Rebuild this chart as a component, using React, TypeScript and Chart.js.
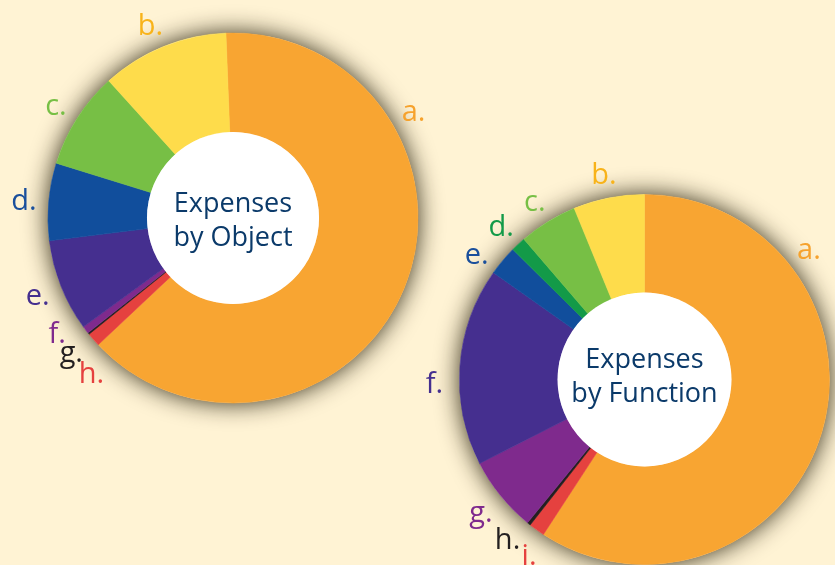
import React, { useEffect, useRef } from "react";
import { Chart, registerables } from "chart.js";

Chart.register(...registerables);

// ---- data (percent of total) ----
const objectLabels = ["a.", "b.", "c.", "d.", "e.", "f.", "g.", "h."];
const objectValues = [63.6, 11.1, 8.5, 6.75, 8.05, 0.65, 0.15, 1.2];
const objectTitle = ["Expenses", "by Object"];

const functionLabels = ["a.", "b.", "c.", "d.", "e.", "f.", "g.", "h.", "i."];
const functionValues = [59.2, 6.2, 5.1, 1.3, 2.6, 17.3, 6.6, 0.3, 1.4];
const functionTitle = ["Expenses", "by Function"];

// ---- styles ----
const ORANGE = "#F8A532";
const YELLOW = "#FEDC4B";
const GREEN = "#77BF45";
const DKGREEN = "#139A48";
const BLUE = "#114E9C";
const INDIGO = "#452F8F";
const PURPLE = "#7F2A8D";
const BLACK = "#231F20";
const RED = "#E5413F";
const NAVY = "#0B3A6A";
const BG = "#FFF3D4";

const objectColors = [ORANGE, YELLOW, GREEN, BLUE, INDIGO, PURPLE, BLACK, RED];
const objectTextColors = ["#F6A22D", "#F8B31A", GREEN, "#1A4F9C", INDIGO, PURPLE, BLACK, RED];
const functionColors = [ORANGE, YELLOW, GREEN, DKGREEN, BLUE, INDIGO, PURPLE, BLACK, RED];
const functionTextColors = ["#F6A22D", "#F8B31A", GREEN, DKGREEN, "#1A4F9C", INDIGO, PURPLE, BLACK, RED];

// angle nudges (degrees) for label placement
const objectNudge: Record<string, number> = { "a.": -53, "b.": -1, "f.": 4, "g.": -1, "h.": -6.5 };
const functionNudge: Record<string, number> = { "a.": -55, "e.": -3, "f.": -5, "h.": 2, "i.": -2.3 };

type Spec = {
  labels: string[];
  values: number[];
  colors: string[];
  textColors: string[];
  nudge: Record<string, number>;
  title: string[];
  titleShift: number;
  cx: number;
  cy: number;
  radius: number;
  cutout: string;
  rotation: number;
};

const W = 835;
const H = 565;

function clockwiseOrder(n: number): number[] {
  // first slice, then the rest in reverse (letters run counter-clockwise)
  const idx = [0];
  for (let i = n - 1; i >= 1; i--) idx.push(i);
  return idx;
}

function makeChart(canvas: HTMLCanvasElement, s: Spec) {
  const order = clockwiseOrder(s.labels.length);
  const labels = order.map((i) => s.labels[i]);
  const values = order.map((i) => s.values[i]);
  const colors = order.map((i) => s.colors[i]);
  const textColors = order.map((i) => s.textColors[i]);

  const plugin = {
    id: "ringDecor",
    beforeDatasetsDraw(chart: any) {
      const meta = chart.getDatasetMeta(0);
      const a = meta.data[0].getProps(["x", "y", "outerRadius"], true);
      const ctx = chart.ctx;
      ctx.save();
      ctx.shadowColor = "rgba(35,28,8,0.95)";
      ctx.shadowBlur = 24;
      ctx.beginPath();
      ctx.arc(a.x, a.y, a.outerRadius, 0, Math.PI * 2);
      ctx.fillStyle = "#ffffff";
      ctx.fill();
      ctx.restore();
    },
    afterDatasetsDraw(chart: any) {
      const meta = chart.getDatasetMeta(0);
      const ctx = chart.ctx;
      const first = meta.data[0].getProps(["x", "y", "outerRadius", "innerRadius"], true);
      // inner white disc
      ctx.save();
      ctx.beginPath();
      ctx.arc(first.x, first.y, first.innerRadius, 0, Math.PI * 2);
      ctx.fillStyle = "#ffffff";
      ctx.fill();
      // centre title
      ctx.fillStyle = NAVY;
      ctx.font = '27px "Open Sans", sans-serif';
      ctx.textAlign = "center";
      ctx.textBaseline = "alphabetic";
      ctx.fillText(s.title[0], first.x, first.y - 10 + s.titleShift);
      ctx.fillText(s.title[1], first.x, first.y + 24 + s.titleShift);
      // slice labels
      ctx.font = '29px "Open Sans", sans-serif';
      ctx.textBaseline = "middle";
      meta.data.forEach((el: any, i: number) => {
        const p = el.getProps(["x", "y", "startAngle", "endAngle", "outerRadius"], true);
        const lab = chart.data.labels[i];
        const mid = (p.startAngle + p.endAngle) / 2 + ((s.nudge[lab] || 0) * Math.PI) / 180;
        const r = p.outerRadius + 25;
        ctx.fillStyle = textColors[i];
        ctx.fillText(lab, p.x + Math.cos(mid) * r, p.y + Math.sin(mid) * r + 2);
      });
      ctx.restore();
    },
  };

  const padLeft = Math.max(0, 2 * s.cx - W);
  const padRight = Math.max(0, W - 2 * s.cx);
  const padTop = Math.max(0, 2 * s.cy - H);
  const padBottom = Math.max(0, H - 2 * s.cy);

  return new Chart(canvas, {
    type: "doughnut",
    data: {
      labels,
      datasets: [
        {
          data: values,
          backgroundColor: colors,
          borderColor: colors,
          borderWidth: 0.6,
          hoverOffset: 0,
        },
      ],
    },
    options: {
      responsive: false,
      animation: false,
      events: [],
      radius: s.radius,
      cutout: s.cutout,
      rotation: s.rotation,
      layout: { padding: { left: padLeft, right: padRight, top: padTop, bottom: padBottom } },
      plugins: { legend: { display: false }, tooltip: { enabled: false } },
    } as any,
    plugins: [plugin],
  });
}

export default function App() {
  const leftRef = useRef<HTMLCanvasElement>(null);
  const rightRef = useRef<HTMLCanvasElement>(null);

  useEffect(() => {
    const c1 = makeChart(leftRef.current!, {
      labels: objectLabels,
      values: objectValues,
      colors: objectColors,
      textColors: objectTextColors,
      nudge: objectNudge,
      title: objectTitle,
      titleShift: 4,
      cx: 233,
      cy: 218,
      radius: 185,
      cutout: "46.5%",
      rotation: -2.2,
    });
    const c2 = makeChart(rightRef.current!, {
      labels: functionLabels,
      values: functionValues,
      colors: functionColors,
      textColors: functionTextColors,
      nudge: functionNudge,
      title: functionTitle,
      titleShift: -2,
      cx: 644.5,
      cy: 379.5,
      radius: 185,
      cutout: "47%",
      rotation: 0,
    });
    return () => {
      c1.destroy();
      c2.destroy();
    };
  }, []);

  const canvasStyle: React.CSSProperties = { position: "absolute", left: 0, top: 0 };
  return (
    <div
      style={{
        position: "absolute",
        left: 0,
        top: 0,
        width: W,
        height: H,
        background: BG,
        overflow: "hidden",
      }}
    >
      <canvas ref={leftRef} width={W} height={H} style={canvasStyle} />
      <canvas ref={rightRef} width={W} height={H} style={canvasStyle} />
    </div>
  );
}
